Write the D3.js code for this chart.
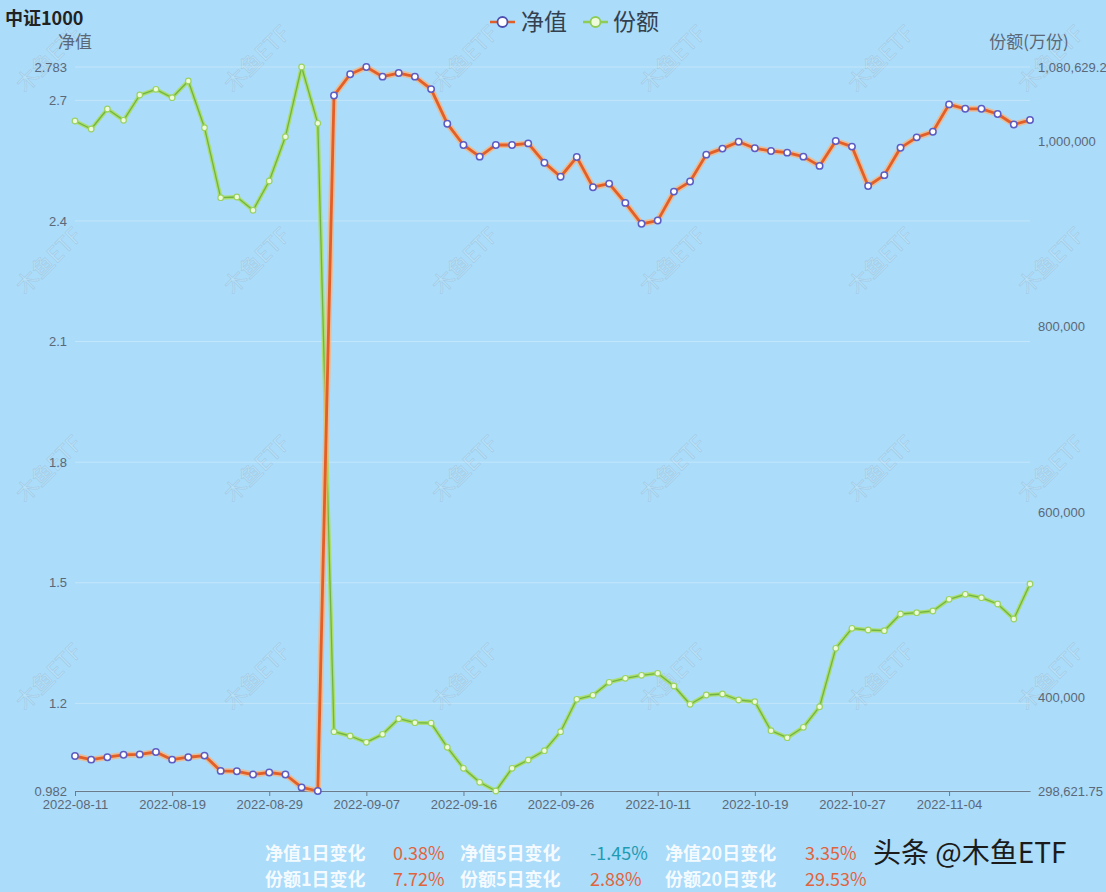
<!DOCTYPE html>
<html><head><meta charset="utf-8">
<script src="https://cdn.jsdelivr.net/npm/d3@7"></script>
<style>
html,body{margin:0;padding:0;background:#abdcfa;}
svg{display:block;font-family:"Microsoft YaHei","Noto Sans CJK SC","Noto Sans",sans-serif;}
</style></head>
<body><svg id="c" width="1106" height="892"></svg>
<script>
const dates = ["2022-08-11","2022-08-12","2022-08-15","2022-08-16","2022-08-17","2022-08-18","2022-08-19",
"2022-08-22","2022-08-23","2022-08-24","2022-08-25","2022-08-26","2022-08-29","2022-08-30","2022-08-31",
"2022-09-01","2022-09-02","2022-09-05","2022-09-07","2022-09-08","2022-09-09","2022-09-13","2022-09-14",
"2022-09-15","2022-09-16","2022-09-19","2022-09-20","2022-09-21","2022-09-22","2022-09-23","2022-09-26",
"2022-09-27","2022-09-28","2022-09-29","2022-09-30","2022-10-10","2022-10-11","2022-10-12","2022-10-13",
"2022-10-14","2022-10-17","2022-10-18","2022-10-19","2022-10-20","2022-10-21","2022-10-24","2022-10-25",
"2022-10-26","2022-10-27","2022-10-28","2022-10-31","2022-11-01","2022-11-02","2022-11-03","2022-11-04",
"2022-11-07","2022-11-08","2022-11-09","2022-11-10","2022-11-11"];

const navValues = [1.069,1.060,1.066,1.072,1.073,1.079,1.060,1.066,1.070,1.032,1.031,1.023,1.028,1.023,0.991,0.982,
2.712,2.765,2.783,2.759,2.768,2.759,2.728,2.642,2.589,2.560,2.589,2.589,2.593,2.545,2.510,
2.559,2.484,2.493,2.445,2.393,2.401,2.473,2.498,2.565,2.580,2.597,2.581,2.574,2.570,2.560,2.537,
2.599,2.585,2.487,2.514,2.582,2.608,2.622,2.690,2.679,2.679,2.666,2.640,2.651];

const shareValues = [1022289,1013648,1035250,1023045,1050371,1056528,1047455,1065493,1015052,939445,940201,925836,
957483,1005331,1080629.2,1019805,
362672,358028,351223,359864,376713,372393,372000,345822,323140,308019,298621.75,323140,332105,342150,362672,
397667,401988,416029,420349,423590,425750,412032,392266,402312,403392,396911,395075,363752,356191,367424,
389674,452752,474354,472518,471762,489800,491204,493040,505677,511078,507405,500601,484399,522203];

const xTickLabels = ["2022-08-11","2022-08-19","2022-08-29","2022-09-07","2022-09-16","2022-09-26",
"2022-10-11","2022-10-19","2022-10-27","2022-11-04"];
const leftTicks = [0.982,1.2,1.5,1.8,2.1,2.4,2.7,2.783];
const rightTicks = [298621.75,400000,600000,800000,1000000,1080629.2];

const statLabels = [["净值1日变化","净值5日变化","净值20日变化"],["份额1日变化","份额5日变化","份额20日变化"]];
const statValues = [["0.38%","-1.45%","3.35%"],["7.72%","2.88%","29.53%"]];

const svg = d3.select("#c");
const W = 1106, H = 892;
svg.append("rect").attr("width",W).attr("height",H).attr("fill","#abdcfa");

const x = d3.scalePoint().domain(dates).range([75,1030]);
const yL = d3.scaleLinear().domain([0.982,2.783]).range([791,67]);
const yR = d3.scaleLinear().domain([298621.75,1080629.2]).range([791,67]);

// watermarks
const wmX = [50,258,466,674,882,1052], wmY = [60,262,470,678];
const wm = svg.append("g");
wmY.forEach(yy=>wmX.forEach(xx=>{
  wm.append("text").attr("transform",`translate(${xx},${yy}) rotate(-45)`)
    .attr("text-anchor","middle").attr("dominant-baseline","middle")
    .attr("font-size",22).attr("fill","rgba(255,255,255,0.16)")
    .attr("stroke","rgba(110,130,150,0.2)").attr("stroke-width",0.8)
    .text("木鱼ETF");
}));

// gridlines
svg.append("g").selectAll("line").data(leftTicks).join("line")
  .attr("x1",75).attr("x2",1030).attr("y1",d=>yL(d)).attr("y2",d=>yL(d))
  .attr("stroke","rgba(255,255,255,0.3)").attr("stroke-width",1);

// left axis
const gl = svg.append("g").attr("transform","translate(75,0)")
  .call(d3.axisLeft(yL).tickValues(leftTicks).tickSize(0).tickPadding(8).tickFormat(d=>String(d)));
gl.select(".domain").remove();
gl.selectAll("text").attr("font-size",13).attr("fill","#5b6878");

// right axis
const gr = svg.append("g").attr("transform","translate(1030,0)")
  .call(d3.axisRight(yR).tickValues(rightTicks).tickSize(0).tickPadding(8).tickFormat(d3.format(",")));
gr.select(".domain").remove();
gr.selectAll("text").attr("font-size",13).attr("fill","#5b6878");

// x axis
const gx = svg.append("g").attr("transform","translate(0,791)")
  .call(d3.axisBottom(x).tickValues(xTickLabels).tickSize(5).tickPadding(4).tickSizeOuter(0));
gx.select(".domain").attr("stroke","#6a7b8c");
gx.selectAll(".tick line").attr("stroke","#6a7b8c");
gx.selectAll("text").attr("font-size",13).attr("fill","#5b6878");

// axis names
svg.append("text").attr("x",75).attr("y",48).attr("text-anchor","middle").attr("font-size",17).attr("fill","#5b6878").text("净值");
svg.append("text").attr("x",1029).attr("y",48).attr("text-anchor","middle").attr("font-size",17).attr("fill","#5b6878").text("份额(万份)");

// title
svg.append("text").attr("x",5).attr("y",25).attr("font-size",18).attr("font-weight","bold").attr("fill","#222").text("中证1000");

// green line
const idx = d3.range(dates.length);
const lineR = d3.line().x(i=>x(dates[i])).y(i=>yR(shareValues[i]));
svg.append("path").attr("d",lineR(idx)).attr("fill","none").attr("stroke","#a9de6e").attr("stroke-width",4).attr("stroke-linejoin","round");
svg.append("path").attr("d",lineR(idx)).attr("fill","none").attr("stroke","#72b544").attr("stroke-width",1.3).attr("stroke-linejoin","round");
svg.append("g").selectAll("circle").data(idx).join("circle")
  .attr("cx",i=>x(dates[i])).attr("cy",i=>yR(shareValues[i])).attr("r",2.8)
  .attr("fill","#eefadc").attr("stroke","#9bd262").attr("stroke-width",1.2);

// orange line
const lineL = d3.line().x(i=>x(dates[i])).y(i=>yL(navValues[i]));
svg.append("path").attr("d",lineL(idx)).attr("fill","none").attr("stroke","rgba(255,175,110,0.7)").attr("stroke-width",6).attr("stroke-linejoin","round");
svg.append("path").attr("d",lineL(idx)).attr("fill","none").attr("stroke","#e35f28").attr("stroke-width",2.8).attr("stroke-linejoin","round");
svg.append("g").selectAll("circle").data(idx).join("circle")
  .attr("cx",i=>x(dates[i])).attr("cy",i=>yL(navValues[i])).attr("r",3.2)
  .attr("fill","#ffffff").attr("stroke","#5b5cc4").attr("stroke-width",1.5);

// legend
const lg = svg.append("g");
lg.append("line").attr("x1",490).attr("x2",515).attr("y1",22).attr("y2",22).attr("stroke","#e35f28").attr("stroke-width",2.5);
lg.append("circle").attr("cx",502.5).attr("cy",22).attr("r",5).attr("fill","#fff").attr("stroke","#4e4fb0").attr("stroke-width",1.8);
lg.append("text").attr("x",521).attr("y",30).attr("font-size",23).attr("fill","#34404e").text("净值");
lg.append("line").attr("x1",583).attr("x2",608).attr("y1",22).attr("y2",22).attr("stroke","#8fcc55").attr("stroke-width",2.5);
lg.append("circle").attr("cx",595.5).attr("cy",22).attr("r",5).attr("fill","#eefadc").attr("stroke","#8fcc55").attr("stroke-width",1.8);
lg.append("text").attr("x",613).attr("y",30).attr("font-size",23).attr("fill","#34404e").text("份额");

// stats
const labX = [265,460,665], valX = [393,590,805], rowY = [860,886];
rowY.forEach((yy,r)=>{
  statLabels[r].forEach((t,c)=>{
    svg.append("text").attr("x",labX[c]).attr("y",yy).attr("font-size",18).attr("font-weight","bold")
      .attr("fill","#ffffff").attr("fill-opacity",0.9).text(t);
    const v = statValues[r][c];
    svg.append("text").attr("x",valX[c]).attr("y",yy).attr("font-size",18)
      .attr("fill", v.startsWith("-") ? "#1f9bb3" : "#e0643e").text(v);
  });
});
svg.append("text").attr("x",873).attr("y",863).attr("font-size",28).attr("fill","#1b1b1b").text("头条 @木鱼ETF");
</script></body></html>
